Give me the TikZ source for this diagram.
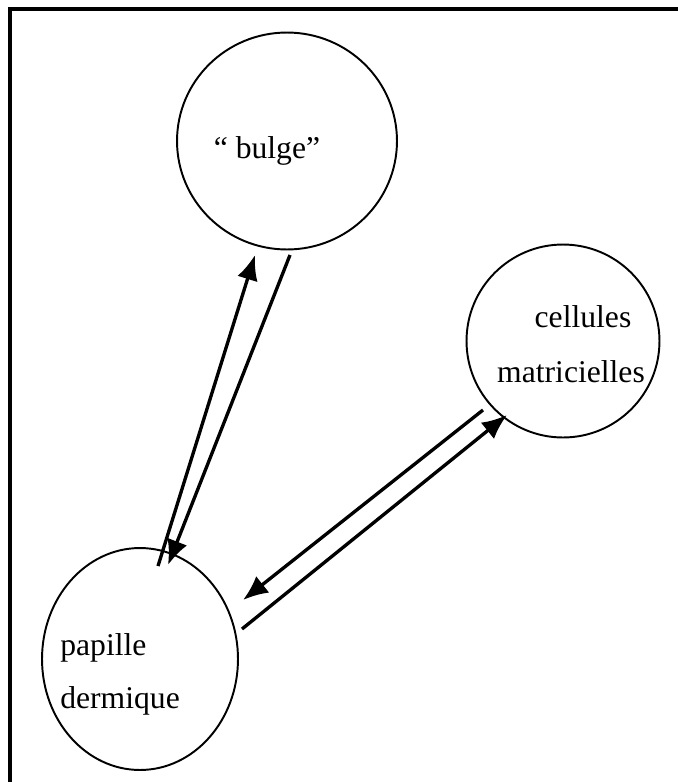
\documentclass[tikz,border=0pt]{standalone}
\usepackage{fontspec}
\setmainfont{Liberation Serif}
\usetikzlibrary{shapes.geometric, arrows.meta}

\tikzset{
  cell/.style={draw, ellipse, line width=1.1pt, inner sep=0pt},
  lbl/.style={inner sep=0pt, font=\fontsize{18}{22}\selectfont},
  flux/.style={line width=1.9pt, -{Latex[length=0.5cm,width=0.42cm]}}
}

\begin{document}
\begin{tikzpicture}[x=0.02cm, y=-0.02cm]
\useasboundingbox (0,0) rectangle (678,782);
\draw[line width=2pt] (10,782) -- (10,9) -- (678,9);
% les trois compartiments
\node[cell, minimum width=4.4cm, minimum height=4.34cm] (bulge) at (287,141) {};
\node[cell, minimum width=3.86cm, minimum height=3.86cm] (cellules) at (563,341) {};
\node[cell, minimum width=3.92cm, minimum height=4.44cm] (papille) at (140,659) {};
\node[lbl, anchor=base] (bulge-txt) at (267,158) {“ bulge”};
\node[lbl, anchor=base] (cell-txt1) at (583,327) {cellules};
\node[lbl, anchor=base] (cell-txt2) at (571,382) {matricielles};
\node[lbl, anchor=base west] (pap-txt1) at (60,655) {papille};
\node[lbl, anchor=base west] (pap-txt2) at (60,708) {dermique};
% extremites des fleches
\coordinate (pap-up) at (158,566);
\coordinate (bul-in) at (255,255);
\coordinate (bul-out) at (290,255);
\coordinate (pap-in) at (168,565);
\coordinate (cel-out) at (483,410);
\coordinate (pap-in2) at (243,600);
\coordinate (pap-out) at (242,629);
\coordinate (cel-in) at (507,415);
\draw[flux] (pap-up) -- (bul-in);
\draw[flux] (bul-out) -- (pap-in);
\draw[flux] (cel-out) -- (pap-in2);
\draw[flux] (pap-out) -- (cel-in);
\end{tikzpicture}
\end{document}
